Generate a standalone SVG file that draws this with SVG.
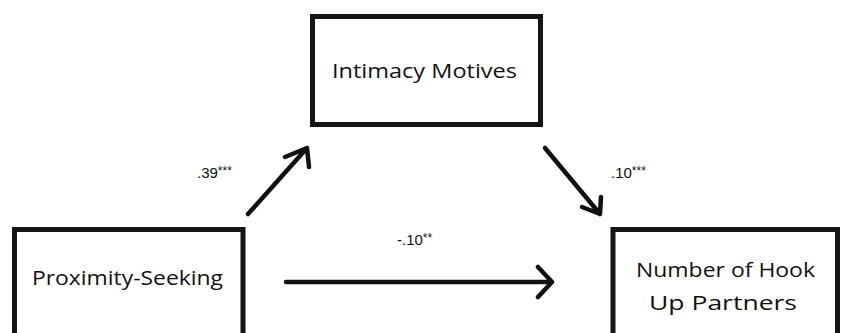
<svg xmlns="http://www.w3.org/2000/svg" width="841" height="333" viewBox="0 0 841 333">
<style>
.box{fill:#fff;stroke:#151515;stroke-width:5}
.nt{font-family:"Open Sans","Liberation Sans",sans-serif;font-size:20.5px;fill:#111}
.lb{font-family:"Liberation Sans",Arial,sans-serif;font-size:15px;fill:#111}
.st{font-size:12px}
.ar{fill:none;stroke:#111;stroke-width:4.5;stroke-linecap:round;stroke-linejoin:round}
</style>
<rect width="841" height="333" fill="#fff"/>
<g id="intimacy">
<rect class="box" x="312.5" y="16.5" width="228" height="108"/>
<text class="nt" x="424.5" y="78" text-anchor="middle" textLength="185" lengthAdjust="spacingAndGlyphs">Intimacy Motives</text>
</g>
<g id="proximity">
<rect class="box" x="14.5" y="229.5" width="228.5" height="120"/>
<text class="nt" x="127.5" y="285" text-anchor="middle" textLength="191" lengthAdjust="spacingAndGlyphs">Proximity-Seeking</text>
</g>
<g id="hookup">
<rect class="box" x="613" y="229.5" width="224.5" height="120"/>
<text class="nt" x="725.5" y="277" text-anchor="middle" textLength="179" lengthAdjust="spacingAndGlyphs">Number of Hook</text>
<text class="nt" x="723" y="310" text-anchor="middle" textLength="148" lengthAdjust="spacingAndGlyphs">Up Partners</text>
</g>
<g id="connectors">
<path class="ar" d="M248,214 L307,148 M285,157 L307,148 L309,167"/>
<path class="ar" d="M545,148 L600,214 M582,207 L600,214 L601,197"/>
<path class="ar" d="M286,282 L552,282 M538,267 L552,282 L538,297"/>
<text class="lb" x="197" y="178">.39<tspan class="st" dy="-3">***</tspan></text>
<text class="lb" x="611" y="178">.10<tspan class="st" dy="-3">***</tspan></text>
<text class="lb" x="397" y="245">-.10<tspan class="st" dy="-3">**</tspan></text>
</g>
</svg>
